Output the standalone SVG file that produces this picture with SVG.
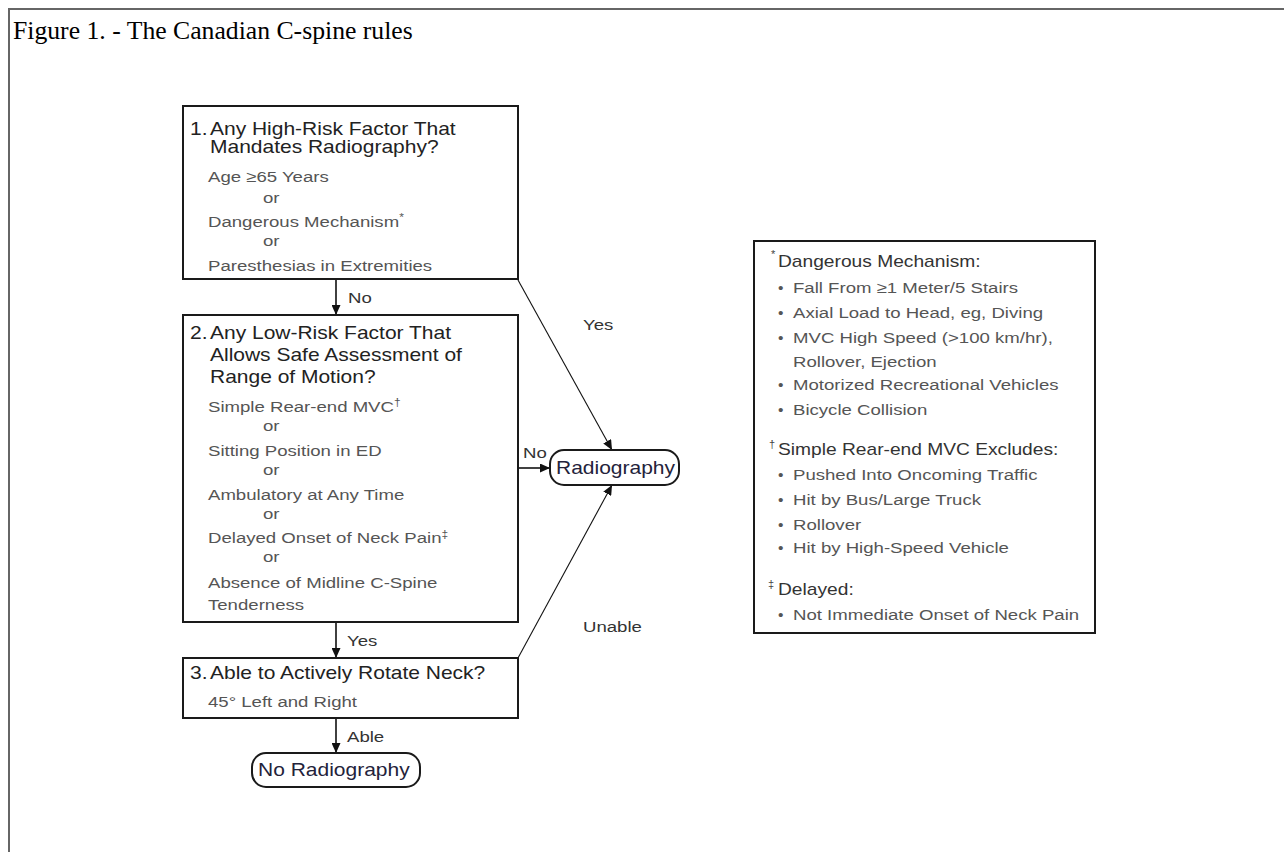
<svg xmlns="http://www.w3.org/2000/svg" width="1284" height="852" viewBox="0 0 1284 852">
<style>
text{font-family:"Liberation Sans",Arial,sans-serif;}
.s{transform:scaleX(1.2);transform-box:fill-box;transform-origin:0 0;}
.t{font-size:17.5px;fill:#222;}
.b{font-size:15.5px;fill:#555;}
.h{font-size:16px;fill:#333;}
.m{font-size:11px;fill:#444;}
.l{font-size:15.5px;fill:#333;}
.p{font-size:17.5px;fill:#23223a;}
.box{fill:#fff;stroke:#1a1a1a;stroke-width:2;}
.conn{stroke:#111;fill:none;}
</style>
<defs>
<marker id="ah" markerUnits="userSpaceOnUse" markerWidth="11" markerHeight="9" refX="10" refY="4.5" orient="auto">
<path d="M0,0 L10,4.5 L0,9 z" fill="#111"/>
</marker>
</defs>
<rect width="1284" height="852" fill="#fff"/>
<path d="M9,852 V9 H1284" stroke="#666" stroke-width="2" fill="none"/>
<text x="13" y="39" style="font-family:'Liberation Serif','Times New Roman',serif;font-size:25.7px;fill:#000">Figure 1. - The Canadian C-spine rules</text>

<g id="connectors">
<line class="conn" stroke-width="1.6" x1="336" y1="280" x2="336" y2="315" marker-end="url(#ah)"/>
<line class="conn" stroke-width="1.6" x1="336" y1="623" x2="336" y2="658" marker-end="url(#ah)"/>
<line class="conn" stroke-width="1.6" x1="336" y1="719" x2="336" y2="753" marker-end="url(#ah)"/>
<line class="conn" stroke-width="1.6" x1="519" y1="468" x2="550" y2="468" marker-end="url(#ah)"/>
<line class="conn" stroke-width="1.1" x1="518" y1="280" x2="612" y2="450" marker-end="url(#ah)"/>
<line class="conn" stroke-width="1.1" x1="518" y1="658" x2="612" y2="485" marker-end="url(#ah)"/>
<text class="l s" x="348" y="303">No</text>
<text class="l s" x="347" y="646">Yes</text>
<text class="l s" x="347" y="742">Able</text>
<text class="l s" x="523" y="458">No</text>
<text class="l s" x="583" y="330">Yes</text>
<text class="l s" x="583" y="632">Unable</text>
</g>

<g id="node1">
<rect class="box" x="183" y="106" width="335" height="173"/>
<text class="t s" x="190" y="135">1.</text>
<text class="t s" x="210" y="135">Any High-Risk Factor That</text>
<text class="t s" x="210" y="153">Mandates Radiography?</text>
<text class="b s" x="208" y="182">Age ≥65 Years</text>
<text class="b s" x="263" y="203">or</text>
<text class="b s" x="208" y="227">Dangerous Mechanism<tspan font-size="10" dy="-6">*</tspan></text>
<text class="b s" x="263" y="246">or</text>
<text class="b s" x="208" y="271">Paresthesias in Extremities</text>
</g>

<g id="node2">
<rect class="box" x="183" y="315" width="335" height="307"/>
<text class="t s" x="190" y="339">2.</text>
<text class="t s" x="210" y="339">Any Low-Risk Factor That</text>
<text class="t s" x="210" y="361">Allows Safe Assessment of</text>
<text class="t s" x="210" y="383">Range of Motion?</text>
<text class="b s" x="208" y="412">Simple Rear-end MVC<tspan font-size="10" dy="-6">†</tspan></text>
<text class="b s" x="263" y="431">or</text>
<text class="b s" x="208" y="456">Sitting Position in ED</text>
<text class="b s" x="263" y="475">or</text>
<text class="b s" x="208" y="500">Ambulatory at Any Time</text>
<text class="b s" x="263" y="519">or</text>
<text class="b s" x="208" y="543">Delayed Onset of Neck Pain<tspan font-size="10" dy="-5">‡</tspan></text>
<text class="b s" x="263" y="562">or</text>
<text class="b s" x="208" y="588">Absence of Midline C-Spine</text>
<text class="b s" x="208" y="610">Tenderness</text>
</g>

<g id="node3">
<rect class="box" x="183" y="658" width="335" height="60"/>
<text class="t s" x="190" y="679">3.</text>
<text class="t s" x="210" y="679">Able to Actively Rotate Neck?</text>
<text class="b s" x="208" y="707">45° Left and Right</text>
</g>

<g id="radiography">
<rect class="box" x="550" y="450" width="129" height="35" rx="14"/>
<text class="p s" x="556" y="474">Radiography</text>
</g>

<g id="no-radiography">
<rect class="box" x="252" y="753" width="168" height="34" rx="14"/>
<text class="p s" x="258" y="776">No Radiography</text>
</g>

<g id="legend">
<rect class="box" x="754" y="241" width="341" height="392"/>
<text class="m" x="771" y="258">*</text>
<text class="h s" x="778" y="267">Dangerous Mechanism:</text>
<text class="b" x="778" y="293">•</text><text class="b s" x="793" y="293">Fall From ≥1 Meter/5 Stairs</text>
<text class="b" x="778" y="318">•</text><text class="b s" x="793" y="318">Axial Load to Head, eg, Diving</text>
<text class="b" x="778" y="343">•</text><text class="b s" x="793" y="343">MVC High Speed (&gt;100 km/hr),</text>
<text class="b s" x="793" y="367">Rollover, Ejection</text>
<text class="b" x="778" y="390">•</text><text class="b s" x="793" y="390">Motorized Recreational Vehicles</text>
<text class="b" x="778" y="415">•</text><text class="b s" x="793" y="415">Bicycle Collision</text>
<text class="m" x="769" y="448">†</text>
<text class="h s" x="778" y="455">Simple Rear-end MVC Excludes:</text>
<text class="b" x="778" y="480">•</text><text class="b s" x="793" y="480">Pushed Into Oncoming Traffic</text>
<text class="b" x="778" y="505">•</text><text class="b s" x="793" y="505">Hit by Bus/Large Truck</text>
<text class="b" x="778" y="530">•</text><text class="b s" x="793" y="530">Rollover</text>
<text class="b" x="778" y="553">•</text><text class="b s" x="793" y="553">Hit by High-Speed Vehicle</text>
<text class="m" x="768" y="588">‡</text>
<text class="h s" x="778" y="595">Delayed:</text>
<text class="b" x="778" y="620">•</text><text class="b s" x="793" y="620">Not Immediate Onset of Neck Pain</text>
</g>
</svg>
